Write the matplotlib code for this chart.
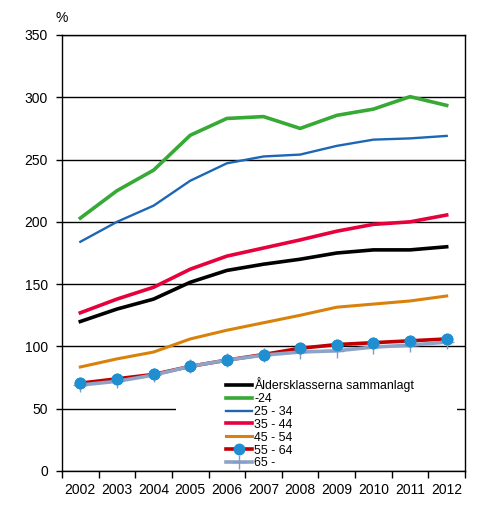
import matplotlib
matplotlib.use("Agg")
import matplotlib.pyplot as plt
from matplotlib.patches import Rectangle

plt.rcParams['font.family'] = ['Liberation Sans', 'DejaVu Sans']

# Data
years = ['2002', '2003', '2004', '2005', '2006', '2007', '2008', '2009', '2010', '2011', '2012']
total = [120, 130, 138, 151.5, 161, 166, 170, 175, 177.5, 177.5, 180]
age_24 = [203, 225, 241.5, 269.5, 283, 284.5, 275, 285.5, 290.5, 300.5, 293.5]
age_25_34 = [184, 200, 213, 233, 247, 252.5, 254, 261, 266, 267, 269]
age_35_44 = [127, 138, 147.5, 162, 172.5, 179, 185.5, 192.5, 198, 200, 205.5]
age_45_54 = [83.5, 90, 95.5, 106, 113, 119, 125, 131.5, 134, 136.5, 140.5]
age_55_64 = [70.5, 74, 77.5, 84, 89, 93.5, 98.5, 101.5, 103, 104.5, 106]
age_65 = [69, 72, 77, 84, 89, 93, 95.5, 96.5, 99.5, 101, 103.5]

x = list(range(len(years)))

fig = plt.figure(figsize=(4.86, 5.29), dpi=100)
ax = fig.add_axes([62/486, 1-471/529, 403/486, 436/529])

ax.plot(x, total, color='black', lw=2.6, label='Åldersklasserna sammanlagt', zorder=3)
ax.plot(x, age_24, color='#36aa35', lw=2.6, label='-24', zorder=3)
ax.plot(x, age_25_34, color='#1d66b6', lw=1.7, label='25 - 34', zorder=3)
ax.plot(x, age_35_44, color='#e6003c', lw=2.6, label='35 - 44', zorder=3)
ax.plot(x, age_45_54, color='#d9820b', lw=2.2, label='45 - 54', zorder=3)
ax.plot(x, age_55_64, color='#c00000', lw=2.6, marker='o', ms=7.5,
        mfc='#1f8fd2', mec='#1f8fd2', label='55 - 64', zorder=3)
ax.plot(x, age_65, color='#8ea3c6', lw=2.6, marker='+', ms=10, mew=1,
        mec='#7f9cc8', label='65 -', zorder=3.5)
ax.plot(x, age_55_64, ls='none', marker='o', ms=7.5, mfc='#1f8fd2',
        mec='#1f8fd2', zorder=4)

ax.set_xlim(-0.5, len(years) - 0.5)
ax.set_ylim(0, 350)
ax.set_yticks(range(0, 351, 50))
ax.set_xticks(x)
ax.set_xticklabels(years)
ax.set_xticks([i - 0.5 for i in range(len(years) + 1)], minor=True)
ax.tick_params(axis='x', which='major', length=0, pad=9, labelsize=10)
ax.tick_params(axis='x', which='minor', length=5, width=1, direction='out')
ax.tick_params(axis='y', length=4, width=1, direction='out', pad=6, labelsize=10)

ax.grid(axis='y', color='black', lw=1, zorder=1)
for s in ax.spines.values():
    s.set_color('black')
    s.set_linewidth(1)

# white area behind the legend
ax.add_patch(Rectangle((0.283, 0.007), 0.697, 0.22, transform=ax.transAxes,
                       facecolor='white', edgecolor='none', zorder=2))
leg = ax.legend(loc='upper left', bbox_to_anchor=(0.407, 0.215), frameon=False,
                fontsize=8.9, handlelength=2.1, handletextpad=0.2,
                labelspacing=0.07, borderpad=0, borderaxespad=0)
leg.set_zorder(5)

fig.text(62/486, 1-18/529, '%', ha='center', va='center', fontsize=10)

fig.savefig('out.png', dpi=100)
